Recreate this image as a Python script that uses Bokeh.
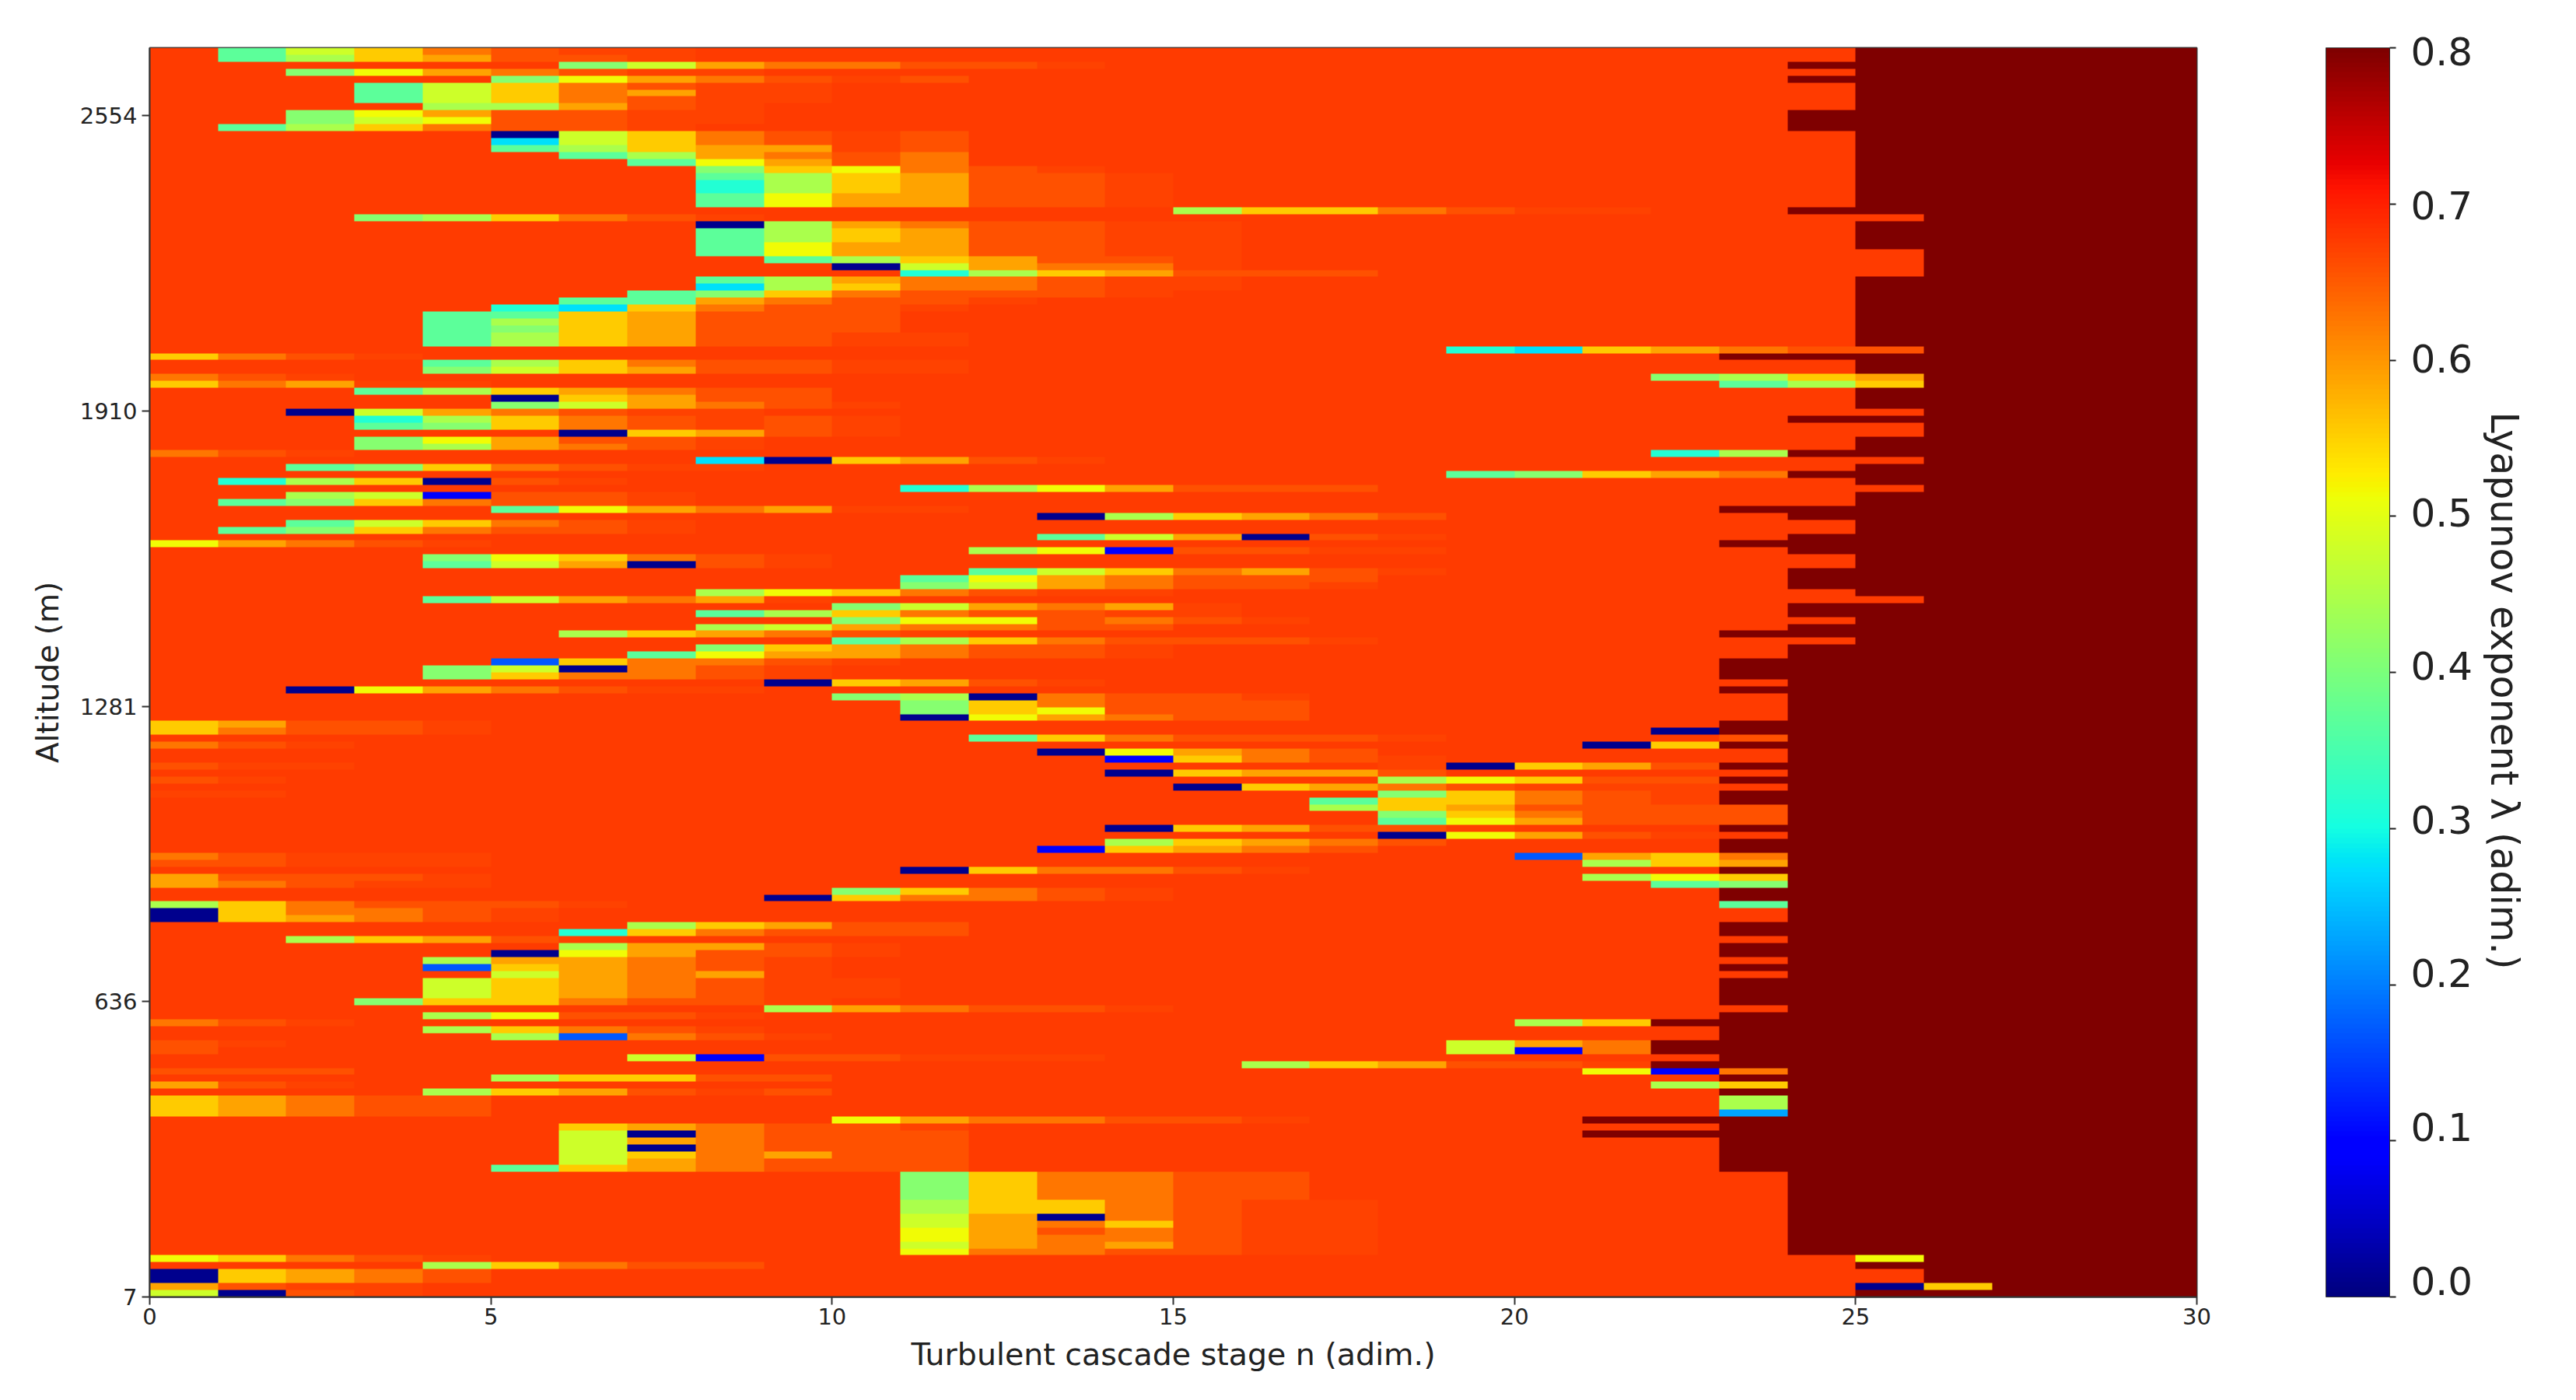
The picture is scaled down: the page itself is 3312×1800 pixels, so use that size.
import numpy as np
from bokeh.embed import file_html
from bokeh.resources import INLINE
from bokeh.plotting import figure
from bokeh.models import LinearColorMapper, ColorBar, FixedTicker, LinearAxis, Range1d, PrintfTickFormatter

# ---- data -------------------------------------------------------------
N_STAGES = 30
N_ROWS = 180
ALT_MIN = 7
ALT_MAX = 2700
x_ticks = [0, 5, 10, 15, 20, 25, 30]
y_tick_labels = ["7", "636", "1281", "1910", "2554"]
y_tick_positions = [7, 643.75, 1280.5, 1917.25, 2554]
cbar_ticks = [0.0, 0.1, 0.2, 0.3, 0.4, 0.5, 0.6, 0.7, 0.8]

BASE = 0.677
# Lyapunov exponent levels
LEVELS = {
    "N": 0.01, "B": 0.09, "D": 0.17, "E": 0.23, "C": 0.275, "T": 0.315,
    "S": 0.37, "G": 0.41, "L": 0.445, "H": 0.48, "Y": 0.515, "U": 0.555,
    "A": 0.588, "O": 0.628, "P": 0.658, "Q": 0.671, ".": BASE, "R": 0.8,
}

# rows counted from the top: first row, last row, first stage, exponents
cells = [
 (0,0,1,"SHUOPQQ"),(1,1,1,"SLUAPPQ"),
 (2,2,6,"GHAOOPP"),(2,2,13,"Q"),
 (3,3,2,"GYAOPQQ"),
 (4,4,5,"GYAOPQP"),
 (5,5,3,"SHUOPQQ"),(6,6,3,"SHUOAQQ"),(7,7,3,"SHUOPQQ"),
 (8,8,4,"LLAPQ"),
 (9,9,2,"GYAPPQQ"),(10,10,2,"GHYPPQQ"),
 (11,11,1,"SLUOPPQ"),
 (12,12,5,"NHUOPQP"),(13,13,5,"CHUOPQP"),(14,14,5,"SLUAAQP"),
 (15,15,6,"SLAOPO"),(16,16,7,"SYAPO"),(17,17,8,"GUYOPQ"),
 (18,18,8,"SLUAPPQ"),(19,20,8,"TLUAPPQ"),(21,22,8,"SYAAPPQ"),
 (23,23,15,"LUUOPQQ"),
 (24,24,3,"GLUOPQ"),
 (25,25,8,"NLAOPPQQ"),(26,27,8,"SLUAPPQQ"),(28,29,8,"SYAAPPQQ"),
 (30,30,9,"SLUAPPQ"),(31,31,10,"NHAOOQ"),(32,32,11,"TLUAPPP"),
 (33,33,8,"SLAOOPQQ"),(34,34,8,"CLUOOPQQ"),
 (35,35,7,"SGUOPPPQ"),(36,36,6,"SSAOPPQ"),(37,37,5,"TCUOPPQ"),
 (38,38,4,"SSUAPPP"),(39,39,4,"SLUAPPP"),(40,40,4,"SGUAPPP"),(41,42,4,"SLUAPPQQ"),
 (44,44,0,"UOPQ"),
 (45,45,4,"SLUOPPQQ"),(46,46,4,"GHUAPPQQ"),
 (47,47,0,"OPQ"),(48,48,0,"UOAQQ"),
 (49,49,3,"SLUAOPP"),(50,50,5,"NUAPP"),(51,51,5,"GHAOPQ"),
 (52,52,2,"NHAOPQQ"),(53,53,3,"TLUOPQPQ"),(54,54,3,"SGUOPQPQ"),
 (55,55,6,"NUAPQ"),(56,56,3,"GYAPPQ"),(57,57,3,"GLAOPQ"),
 (58,58,0,"OPQ"),(59,59,8,"CNUAPQ"),
 (60,60,2,"SGUOPQQ"),(62,62,1,"TLUNPQ"),(63,63,11,"TLYAPPP"),
 (64,64,2,"LHBPPQ"),(65,65,1,"SGUOPPQ"),(66,66,5,"SYAOAQQ"),
 (67,67,13,"NLUAOP"),
 (68,68,2,"SHUOPQ"),(69,69,1,"SGUOPPQ"),
 (70,70,13,"SHANPQ"),
 (71,71,0,"YAOPQ"),(72,72,12,"LYBPPQQ"),
 (73,73,4,"GYUOPQ"),(74,74,4,"SHANPQ"),
 (75,75,12,"SHUOAPQ"),(76,76,11,"SYAOPPP"),(77,77,11,"GHAOPPQ"),
 (78,78,8,"LYUOPQ"),(78,78,11,"OPQQ"),
 (79,79,4,"SHAOAQ"),
 (80,80,10,"GHAOAQ"),
 (81,81,8,"SLUOPPQQ"),(82,82,10,"GYYPOPQ"),
 (83,83,8,"LHAOOPP"),
 (84,84,6,"LUAOPQ"),(85,85,10,"SLUOPPPQ"),
 (86,86,8,"GUAOPPQ"),(87,87,7,"SYAAOPPQ"),
 (88,88,5,"DUOOPQ"),(89,89,4,"GHNOPQ"),(90,90,4,"GUOOPQ"),
 (91,91,9,"NUAPQ"),(92,92,2,"NYAOPQQ"),
 (93,93,10,"GLNOPPQ"),(94,94,11,"GUOPPP"),(95,95,11,"GUYPPP"),
 (96,96,11,"NYAOPP"),
 (97,97,0,"UAPPQ"),(98,98,0,"UOPPQ"),
 (98,98,22,"N"),(99,99,12,"SUOPPPQ"),
 (100,100,0,"OPQ"),(100,100,21,"NU"),
 (101,101,13,"NYAOP"),(102,102,14,"BUOPQ"),
 (103,103,0,"PQQ"),(103,103,18,"QNUAP"),
 (104,104,14,"NUAAP"),(105,105,0,"PQ"),(105,105,18,"LYUPP"),
 (106,106,15,"NUAOPQQQ"),(107,107,0,"QQ"),(107,107,18,"GUOPQ"),
 (108,108,17,"SUUOPQ"),(109,109,17,"LUAPPP"),(110,110,18,"GUOPP"),(111,111,18,"SYAPP"),
 (112,112,14,"NUAPPQ"),(113,113,18,"NYAPQ"),
 (114,114,14,"LUAOP"),(115,115,13,"BUAOP"),
 (116,116,0,"OPQQQ"),(116,116,20,"DAU"),
 (117,117,0,"PPQQQ"),(117,117,21,"LU"),
 (118,118,11,"NUOOPQ"),
 (119,119,0,"APPPQ"),(119,119,21,"LY"),(120,120,0,"AOPQQ"),(120,120,22,"S"),
 (121,121,10,"GUOPQ"),(122,122,9,"NUOOPQ"),
 (123,123,0,"LUOPPPQ"),(124,124,0,"NUOOPQ"),(125,125,0,"NUAOPQ"),
 (126,126,7,"LUAPQ"),(127,127,6,"TUOPPP"),(128,128,2,"LUAPQ"),
 (129,129,6,"LAAPQ"),(130,130,5,"NYAPPQ"),(131,131,4,"LAAOPQ"),
 (132,132,4,"DUAOPQ"),(133,133,5,"HAOAQ"),(134,136,4,"HUAOPQQ"),
 (126,127,11,"P"),(137,137,3,"GUUOPPQ"),
 (138,138,9,"LAOPPQ"),(139,139,4,"LYPPQ"),(140,140,0,"OPQ"),
 (141,141,4,"LUOPQ"),(142,142,5,"LDOPQ"),(143,143,0,"PQ"),(144,144,0,"P"),
 (143,143,19,"HAO"),(144,144,19,"HBO"),
 (145,145,7,"HBPPQP"),(145,145,12,"QQ"),
 (140,140,20,"LU"),
 (146,146,16,"LUAPPQ"),
 (147,147,0,"PPP"),(147,147,21,"YBO"),
 (148,148,5,"LUUPP"),(149,149,0,"APQ"),(149,149,22,"L"),
 (150,150,4,"LUAPQP"),
 (151,153,0,"UAOPP"),
 (154,154,10,"YAOOPPQ"),
 (155,155,6,"UAOPP"),(156,156,6,"HNOPPP"),(157,157,6,"HAOPPP"),
 (158,158,6,"HNOPPP"),(159,159,6,"HUOAPP"),(160,160,6,"HAOPPP"),(161,161,5,"SUAOPPP"),
 (155,155,11,"Q"),(157,157,11,"P"),(159,160,11,"P"),
 (162,165,11,"GUOOPP"),(166,167,11,"LUUOPQQ"),(168,168,11,"HANOPQQ"),
 (169,169,11,"HAOUPQQ"),(170,170,11,"YAPOPQQ"),(171,171,11,"YAOOPQQ"),
 (172,172,11,"HAOAPQQ"),(173,173,11,"YOOPPQQ"),
 (174,174,0,"YUOPQ"),(175,175,4,"LUOPP"),
 (176,177,0,"NUAOP"),(178,178,0,"APQQ"),(179,179,0,"HNPQ"),
]
# right-hand side: stages whose exponent saturates the colour bar
edge_cells = [
 (2,2,24,"R"),(4,4,24,"R"),(9,11,24,"R"),(23,23,24,"R"),
 (24,24,25,"."),(29,32,25,"."),(43,43,19,"TCUAOPP"),(44,44,23,"RRR"),
 (47,47,22,"GLUA"),(48,48,23,"SLU"),(52,52,25,"."),(53,53,24,"R"),
 (54,55,25,"."),(58,58,22,"TLR"),(59,59,25,"."),(61,61,19,"SGUAOR"),
 (63,63,25,"."),(66,67,24,"R"),(66,66,23,"R"),(70,72,24,"R"),(71,71,23,"R"),
 (75,77,24,"R"),(79,79,25,"."),(80,81,24,"R"),(83,84,24,"R"),(84,84,23,"R"),
 (85,85,25,"R"),
 (88,90,23,"R"),(92,92,23,"R"),(97,98,23,"R"),(99,99,23,"P"),(100,100,23,"R"),
 (103,103,23,"R"),(105,105,23,"R"),(107,108,23,"R"),(109,111,23,"P"),
 (112,112,23,"R"),(114,115,23,"R"),(116,116,23,"O"),(117,117,23,"A"),
 (118,118,23,"R"),(119,119,23,"U"),(120,120,23,"G"),(121,122,23,"R"),
 (123,123,23,"S"),(126,127,23,"R"),(129,130,23,"R"),(132,132,23,"R"),
 (134,137,23,"R"),(139,146,23,"R"),(140,140,22,"R"),(143,144,22,"R"),
 (146,146,22,"R"),
 (147,147,23,"O"),(148,148,23,"R"),(149,149,23,"U"),(150,150,23,"R"),
 (151,152,23,"L"),(153,153,23,"E"),(154,161,23,"R"),
 (154,154,21,"RR"),(156,156,21,"RR"),
 (174,174,24,".Y"),(175,175,24,".R"),(176,177,24,".."),
 (178,178,24,".NU"),(179,179,24,".R"),
]

# ---- build the matrix ------------------------------------------------
M = np.full((N_ROWS, N_STAGES), BASE, dtype=float)
M[:86, 25:] = LEVELS["R"]
M[86:, 24:] = LEVELS["R"]
for r0, r1, c0, codes in cells + edge_cells:
    for r in range(r0, r1 + 1):
        for i, ch in enumerate(codes):
            M[r, c0 + i] = LEVELS[ch]

# the jet colour map
def jet():
    f = np.linspace(0, 1, 256)
    r = np.interp(f, [0, .35, .66, .89, 1], [0, 0, 1, 1, .5])
    g = np.interp(f, [0, .125, .375, .64, .91, 1], [0, 0, 1, 1, 0, 0])
    b = np.interp(f, [0, .11, .34, .65, 1], [.5, 1, 1, 0, 0])
    return ["#%02x%02x%02x" % (int(a*255), int(c*255), int(d*255)) for a, c, d in zip(r, g, b)]

mapper = LinearColorMapper(palette=jet(), low=0.0, high=0.8)

# ---- figure -----------------------------------------------------------
p = figure(width=3300, height=1790, output_backend="svg", toolbar_location=None,
           x_range=(0, N_STAGES), y_range=(ALT_MIN, ALT_MAX),
           min_border_left=192, min_border_top=61, min_border_right=476, min_border_bottom=123,
           background_fill_color="white")
p.grid.visible = False
p.outline_line_color = "#333333"
p.outline_line_width = 2

p.image(image=[np.flipud(M)], x=0, y=ALT_MIN, dw=N_STAGES, dh=ALT_MAX - ALT_MIN, color_mapper=mapper)

for ax in (p.xaxis[0], p.yaxis[0]):
    ax.axis_label_text_font = "DejaVu Sans"
    ax.axis_label_text_font_style = "normal"
    ax.axis_label_text_color = "#222222"
    ax.major_label_text_font = "DejaVu Sans"
    ax.major_label_text_font_size = "29px"
    ax.major_label_text_color = "#222222"
    ax.major_tick_in = 0
    ax.major_tick_out = 10
    ax.major_tick_line_color = "#333333"
    ax.major_tick_line_width = 2
    ax.minor_tick_line_color = None
    ax.axis_line_color = "#333333"
    ax.axis_line_width = 2

p.xaxis[0].axis_label = "Turbulent cascade stage n (adim.)"
p.yaxis[0].axis_label = "Altitude (m)"
p.xaxis[0].axis_label_text_font_size = "39.5px"
p.yaxis[0].axis_label_text_font_size = "39px"
p.xaxis[0].ticker = FixedTicker(ticks=x_ticks)
p.yaxis[0].ticker = FixedTicker(ticks=y_tick_positions)
p.yaxis[0].major_label_overrides = dict(zip(y_tick_positions, y_tick_labels))
p.xaxis[0].major_label_standoff = 4
p.yaxis[0].major_label_standoff = 6
p.xaxis[0].axis_label_standoff = 12
p.yaxis[0].axis_label_standoff = 16

cb = ColorBar(color_mapper=mapper, ticker=FixedTicker(ticks=cbar_ticks),
              width=82, location=(166, 0), margin=0, padding=0,
              major_tick_in=0, major_tick_out=8,
              major_tick_line_color="#222222", major_tick_line_width=2,
              minor_tick_line_color=None, bar_line_color="#333333", bar_line_width=1,
              major_label_overrides={t: "" for t in cbar_ticks})
p.add_layout(cb, "right")

# the colour bar's numbers and its title sit on an axis of their own
p.extra_y_ranges["cbar_labels"] = Range1d(-0.0106, 0.8023)
label_axis = LinearAxis(y_range_name="cbar_labels", ticker=FixedTicker(ticks=cbar_ticks),
                        formatter=PrintfTickFormatter(format="%.1f"),
                        axis_line_color=None, major_tick_line_color=None, minor_tick_line_color=None,
                        major_label_text_font="DejaVu Sans", major_label_text_font_size="50px",
                        major_label_text_color="#222222", major_label_standoff=13,
                        axis_label="\u00a0\u00a0\u00a0Lyapunov exponent λ (adim.)", axis_label_text_font="DejaVu Sans",
                        axis_label_text_font_style="normal", axis_label_text_font_size="49px",
                        axis_label_text_color="#222222", axis_label_standoff=9)
p.add_layout(label_axis, "right")

open("out.html", "w").write(file_html(p, INLINE))
